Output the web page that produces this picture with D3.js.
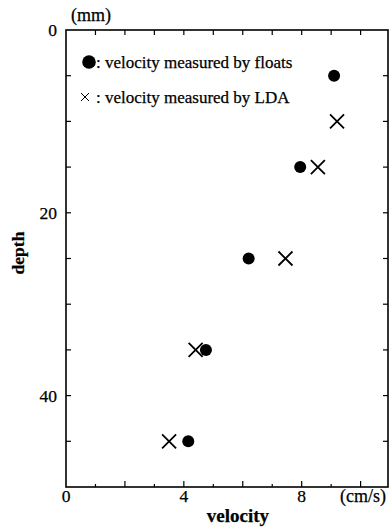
<!DOCTYPE html>
<html><head><meta charset="utf-8">
<script src="https://cdn.jsdelivr.net/npm/d3@7"></script>
<style>body{margin:0;background:#fff}svg{display:block}text{font-family:"Liberation Serif","Times New Roman",serif;fill:#000;stroke:#000;stroke-width:0.25}</style>
</head><body><svg id="c" width="390" height="529"></svg>
<script>
const depths = [5, 15, 25, 35, 45];
const floatVel = [9.1, 7.95, 6.2, 4.75, 4.15];
const ldaDepths = [10, 15, 25, 35, 45];
const ldaVel = [9.2, 8.55, 7.45, 4.4, 3.5];
const xTickLabels = [0, 4, 8];
const yTickLabels = [0, 20, 40];
const legendLabels = [": velocity measured by floats", ": velocity measured by LDA"];

const svg = d3.select("#c");
const x = d3.scaleLinear().domain([0, 10.93]).range([66, 388]);
const y = d3.scaleLinear().domain([0, 50]).range([30, 487]);
const g = svg.append("g");

// frame
g.append("rect").attr("x", x(0)).attr("y", y(0)).attr("width", x(10.93) - x(0)).attr("height", y(50) - y(0))
  .attr("fill", "none").attr("stroke", "#000").attr("stroke-width", 1.6);

// bottom ticks (inward)
const bt = d3.range(1, 11);
g.selectAll(".bt").data(bt).join("line")
  .attr("x1", d => x(d)).attr("x2", d => x(d))
  .attr("y1", y(50)).attr("y2", d => y(50) - (d % 2 === 0 ? 6 : 3))
  .attr("stroke", "#000").attr("stroke-width", 1.2);
// top ticks
g.selectAll(".tt").data(bt).join("line")
  .attr("x1", d => x(d)).attr("x2", d => x(d))
  .attr("y1", y(0)).attr("y2", y(0) + 5)
  .attr("stroke", "#000").attr("stroke-width", 1.2);
// left and right ticks
const yt = d3.range(5, 50, 5);
g.selectAll(".lt").data(yt).join("line")
  .attr("x1", x(0)).attr("x2", x(0) + 5)
  .attr("y1", d => y(d)).attr("y2", d => y(d))
  .attr("stroke", "#000").attr("stroke-width", 1.2);
g.selectAll(".rt").data(yt).join("line")
  .attr("x1", x(10.93)).attr("x2", x(10.93) - 5)
  .attr("y1", d => y(d)).attr("y2", d => y(d))
  .attr("stroke", "#000").attr("stroke-width", 1.2);

// tick labels
g.selectAll(".xl").data(xTickLabels).join("text")
  .attr("x", d => x(d)).attr("y", 502).attr("text-anchor", "middle")
  .attr("font-size", 17.5).text(d => d);
g.selectAll(".yl").data(yTickLabels).join("text")
  .attr("x", 57).attr("y", d => y(d) + 6).attr("text-anchor", "end")
  .attr("font-size", 17.5).text(d => d);

svg.append("text").attr("x", 363).attr("y", 502).attr("text-anchor", "middle").attr("font-size", 18).text("(cm/s)");
svg.append("text").attr("x", 91).attr("y", 21).attr("text-anchor", "middle").attr("font-size", 18).text("(mm)");
svg.append("text").attr("x", 238).attr("y", 522).attr("text-anchor", "middle").attr("font-size", 19).attr("font-weight", "bold").text("velocity");
svg.append("text").attr("transform", "translate(24,253) rotate(-90)").attr("text-anchor", "middle").attr("font-size", 17.5).attr("font-weight", "bold").text("depth");

// floats
g.selectAll(".fc").data(depths).join("circle")
  .attr("cx", (d, i) => x(floatVel[i])).attr("cy", d => y(d)).attr("r", 6).attr("fill", "#000");
// LDA crosses
const s = 7;
g.selectAll(".lx").data(ldaDepths).join("path")
  .attr("d", (d, i) => { const cx = x(ldaVel[i]), cy = y(d); return `M${cx - s},${cy - s}L${cx + s},${cy + s}M${cx - s},${cy + s}L${cx + s},${cy - s}`; })
  .attr("stroke", "#000").attr("stroke-width", 1.8).attr("fill", "none");

// legend
g.append("circle").attr("cx", 89).attr("cy", 62).attr("r", 6.8).attr("fill", "#000");
g.append("path").attr("d", "M81,93L89,101M81,101L89,93").attr("stroke", "#000").attr("stroke-width", 1);
g.selectAll(".lg").data(legendLabels).join("text")
  .attr("x", 96).attr("y", (d, i) => 68 + i * 35).attr("font-size", 17).text(d => d);
</script></body></html>
